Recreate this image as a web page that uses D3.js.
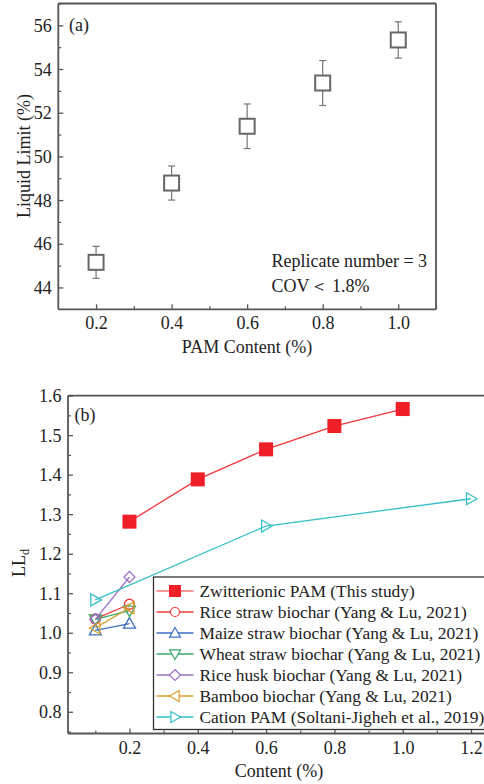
<!DOCTYPE html>
<html>
<head>
<meta charset="utf-8">
<script src="https://cdn.jsdelivr.net/npm/d3@7/dist/d3.min.js"></script>
<style>
  html, body { margin: 0; padding: 0; background: #fff; }
  svg { display: block; }
  text { font-family: "Liberation Serif", "Times New Roman", serif; fill: #222; }
</style>
</head>
<body>
<svg id="chart" width="484" height="784"></svg>
<script>
// ---- Panel (a): liquid limit vs PAM content ----
const pamContent = [0.2, 0.4, 0.6, 0.8, 1.0];
const liquidLimit = [45.15, 48.78, 51.38, 53.36, 55.33];
const liquidLimitErr = [0.73, 0.78, 1.02, 1.03, 0.83];
const aTicksX = [0.2, 0.4, 0.6, 0.8, 1.0];
const aTicksY = [44, 46, 48, 50, 52, 54, 56];

// ---- Panel (b): LL_d vs content for several additives ----
const seriesNames = [
  "Zwitterionic PAM (This study)",
  "Rice straw biochar (Yang & Lu, 2021)",
  "Maize straw biochar (Yang & Lu, 2021)",
  "Wheat straw biochar (Yang & Lu, 2021)",
  "Rice husk biochar (Yang & Lu, 2021)",
  "Bamboo biochar (Yang & Lu, 2021)",
  "Cation PAM (Soltani-Jigheh et al., 2019)"
];
const zwitterionicX = [0.2, 0.4, 0.6, 0.8, 1.0];
const zwitterionicY = [1.281, 1.388, 1.464, 1.523, 1.566];
const riceStrawX = [0.1, 0.2];
const riceStrawY = [1.035, 1.072];
const maizeStrawX = [0.1, 0.2];
const maizeStrawY = [1.006, 1.023];
const wheatStrawX = [0.1, 0.2];
const wheatStrawY = [1.034, 1.056];
const riceHuskX = [0.1, 0.2];
const riceHuskY = [1.034, 1.141];
const bambooX = [0.1, 0.2];
const bambooY = [1.012, 1.063];
const cationX = [0.1, 0.6, 1.2];
const cationY = [1.083, 1.270, 1.339];
const bTicksX = [0.2, 0.4, 0.6, 0.8, 1.0, 1.2];
const bTicksY = [0.8, 0.9, 1.0, 1.1, 1.2, 1.3, 1.4, 1.5, 1.6];

const svg = d3.select("#chart");
const axisColor = "#555";

function minorTicks(domain, step, offset) {
  const out = [];
  for (let v = offset; v <= domain[1] + 1e-9; v += step) {
    if (v >= domain[0] - 1e-9) out.push(+v.toFixed(4));
  }
  return out;
}

// Draws inward-pointing ticks on the left and bottom axes.
function drawAxes(g, x, y, opts) {
  const [x0, x1] = x.range();
  const [y0, y1] = y.range();
  const fmtX = opts.fmtX, fmtY = opts.fmtY;

  const bottom = g.append("g").attr("transform", `translate(0,${y0})`)
    .call(d3.axisBottom(x).tickValues(opts.ticksX).tickSize(-5).tickSizeOuter(0).tickFormat(fmtX));
  bottom.select(".domain").remove();
  bottom.selectAll(".tick line").attr("stroke", axisColor).attr("stroke-width", 1.3);
  bottom.selectAll(".tick text").attr("font-size", 18).attr("font-family", "Liberation Serif")
    .attr("fill", "#222").attr("dy", null).attr("y", opts.xLabelOffset);

  const bottomMinor = g.append("g").attr("transform", `translate(0,${y0})`)
    .call(d3.axisBottom(x).tickValues(opts.minorX).tickSize(-3).tickSizeOuter(0).tickFormat(""));
  bottomMinor.select(".domain").remove();
  bottomMinor.selectAll(".tick line").attr("stroke", axisColor).attr("stroke-width", 1.2);

  const left = g.append("g").attr("transform", `translate(${x0},0)`)
    .call(d3.axisLeft(y).tickValues(opts.ticksY).tickSize(-5).tickSizeOuter(0).tickFormat(fmtY));
  left.select(".domain").remove();
  left.selectAll(".tick line").attr("stroke", axisColor).attr("stroke-width", 1.3);
  left.selectAll(".tick text").attr("font-size", 18).attr("font-family", "Liberation Serif")
    .attr("fill", "#222").attr("x", -6.5).attr("dy", "0.34em");

  const leftMinor = g.append("g").attr("transform", `translate(${x0},0)`)
    .call(d3.axisLeft(y).tickValues(opts.minorY).tickSize(-3).tickSizeOuter(0).tickFormat(""));
  leftMinor.select(".domain").remove();
  leftMinor.selectAll(".tick line").attr("stroke", axisColor).attr("stroke-width", 1.2);

  // frame
  const frame = g.append("g").attr("fill", "none").attr("stroke", axisColor).attr("stroke-width", 1.8);
  frame.append("line").attr("x1", x0).attr("x2", x1).attr("y1", y0).attr("y2", y0);
  frame.append("line").attr("x1", x0).attr("x2", x0).attr("y1", y0).attr("y2", y1);
  frame.append("line").attr("x1", x0).attr("x2", x1).attr("y1", y1).attr("y2", y1);
  if (opts.rightBorder) frame.append("line").attr("x1", x1).attr("x2", x1).attr("y1", y0).attr("y2", y1);
}

// ================= Panel (a) =================
const ga = svg.append("g");
const xa = d3.scaleLinear().domain([0.1, 1.1]).range([58.3, 436]);
const ya = d3.scaleLinear().domain([43, 57]).range([309.3, 3.5]);

drawAxes(ga, xa, ya, {
  ticksX: aTicksX, ticksY: aTicksY,
  minorX: minorTicks(xa.domain(), 0.2, 0.3),
  minorY: minorTicks(ya.domain(), 2, 45),
  fmtX: d3.format(".1f"), fmtY: d3.format("d"),
  xLabelOffset: 19.5, rightBorder: true
});

const aData = pamContent.map((c, i) => ({ x: c, y: liquidLimit[i], e: liquidLimitErr[i] }));
const errG = ga.append("g").attr("stroke", "#777").attr("stroke-width", 1.2);
aData.forEach(d => {
  const cx = xa(d.x);
  errG.append("line").attr("x1", cx).attr("x2", cx).attr("y1", ya(d.y + d.e)).attr("y2", ya(d.y - d.e));
  errG.append("line").attr("x1", cx - 3.5).attr("x2", cx + 3.5).attr("y1", ya(d.y + d.e)).attr("y2", ya(d.y + d.e));
  errG.append("line").attr("x1", cx - 3.5).attr("x2", cx + 3.5).attr("y1", ya(d.y - d.e)).attr("y2", ya(d.y - d.e));
});
ga.append("g").selectAll("rect").data(aData).join("rect")
  .attr("x", d => xa(d.x) - 7.5).attr("y", d => ya(d.y) - 7.5)
  .attr("width", 15).attr("height", 15)
  .attr("fill", "#fff").attr("stroke", "#666").attr("stroke-width", 2);

ga.append("text").attr("x", 69).attr("y", 30.5).attr("font-size", 18).text("(a)");
ga.append("text").attr("x", 271.5).attr("y", 267).attr("font-size", 18).text("Replicate number = 3");
ga.append("text").attr("x", 271.5).attr("y", 291.5).attr("font-size", 18).text("COV＜ 1.8%");
ga.append("text").attr("x", 247).attr("y", 352.5).attr("font-size", 18)
  .attr("text-anchor", "middle").text("PAM Content (%)");
ga.append("text").attr("transform", "translate(30,156) rotate(-90)").attr("font-size", 18)
  .attr("text-anchor", "middle").text("Liquid Limit (%)");

// ================= Panel (b) =================
const gb = svg.append("g");
const xb = d3.scaleLinear().domain([0.02, 1.26]).range([68, 491.5]);
const yb = d3.scaleLinear().domain([0.745, 1.6]).range([733.5, 395.6]);

drawAxes(gb, xb, yb, {
  ticksX: bTicksX, ticksY: bTicksY,
  minorX: minorTicks(xb.domain(), 0.2, 0.1),
  minorY: minorTicks(yb.domain(), 0.1, 0.75),
  fmtX: d3.format(".1f"), fmtY: d3.format(".1f"),
  xLabelOffset: 20, rightBorder: false
});

const sym = {
  square: d3.symbol().type(d3.symbolSquare),
  circle: d3.symbol().type(d3.symbolCircle),
  triangle: d3.symbol().type(d3.symbolTriangle)
};
// marker path builders: size in px (approx width)
function markerPath(kind, s) {
  const h = s / 2;
  switch (kind) {
    case "square": return `M${-h},${-h}H${h}V${h}H${-h}Z`;
    case "circle": return `M${h},0A${h},${h} 0 1,1 ${-h},0A${h},${h} 0 1,1 ${h},0Z`;
    case "up": return `M0,${-h}L${h},${h * 0.75}L${-h},${h * 0.75}Z`;
    case "down": return `M0,${h}L${h},${-h * 0.75}L${-h},${-h * 0.75}Z`;
    case "left": return `M${-h},0L${h * 0.75},${-h}L${h * 0.75},${h}Z`;
    case "right": return `M${h},0L${-h * 0.75},${-h}L${-h * 0.75},${h}Z`;
    case "diamond": return `M0,${-h}L${h},0L0,${h}L${-h},0Z`;
  }
}

const series = [
  { name: seriesNames[0], xs: zwitterionicX, ys: zwitterionicY, color: "#ee1f26", line: "#f0383c", marker: "square", filled: true, size: 14, legSize: 12 },
  { name: seriesNames[1], xs: riceStrawX, ys: riceStrawY, color: "#ef3b3b", line: "#ef3b3b", marker: "circle", filled: false, size: 10, legSize: 9 },
  { name: seriesNames[2], xs: maizeStrawX, ys: maizeStrawY, color: "#3d6fc2", line: "#3d6fc2", marker: "up", filled: false, size: 12, legSize: 11 },
  { name: seriesNames[3], xs: wheatStrawX, ys: wheatStrawY, color: "#3aa76a", line: "#3aa76a", marker: "down", filled: false, size: 12, legSize: 11 },
  { name: seriesNames[4], xs: riceHuskX, ys: riceHuskY, color: "#9b72c6", line: "#9b72c6", marker: "diamond", filled: false, size: 11, legSize: 11 },
  { name: seriesNames[5], xs: bambooX, ys: bambooY, color: "#d6a02e", line: "#d6a02e", marker: "left", filled: false, size: 12, legSize: 11 },
  { name: seriesNames[6], xs: cationX, ys: cationY, color: "#36bfc6", line: "#36bfc6", marker: "right", filled: false, size: 12, legSize: 11 }
];

const lineGen = d3.line().x(d => xb(d[0])).y(d => yb(d[1]));
series.forEach(s => {
  const pts = s.xs.map((v, i) => [v, s.ys[i]]);
  gb.append("path").attr("d", lineGen(pts)).attr("fill", "none")
    .attr("stroke", s.line).attr("stroke-width", 1.3);
  gb.append("g").selectAll("path").data(pts).join("path")
    .attr("transform", d => `translate(${xb(d[0])},${yb(d[1])})`)
    .attr("d", markerPath(s.marker, s.size))
    .attr("fill", s.filled ? s.color : "#fff")
    .attr("fill-opacity", s.filled ? 1 : 0)
    .attr("stroke", s.filled ? "none" : s.color)
    .attr("stroke-width", 1.3);
});

gb.append("text").attr("x", 74.5).attr("y", 420.5).attr("font-size", 18).text("(b)");

// legend
const leg = gb.append("g");
leg.append("rect").attr("x", 153.5).attr("y", 577).attr("width", 340).attr("height", 152.5)
  .attr("fill", "#fff").attr("stroke", "#333").attr("stroke-width", 1.3);
series.forEach((s, i) => {
  const cy = 591 + i * 21;
  leg.append("line").attr("x1", 156.5).attr("x2", 193.5).attr("y1", cy).attr("y2", cy)
    .attr("stroke", s.line).attr("stroke-width", 1.3).attr("stroke-opacity", s.filled ? 0.7 : 1);
  leg.append("path").attr("transform", `translate(175,${cy})`)
    .attr("d", markerPath(s.marker, s.legSize))
    .attr("fill", s.filled ? s.color : "#fff")
    .attr("stroke", s.filled ? "none" : s.color).attr("stroke-width", 1.2);
  leg.append("text").attr("x", 199.5).attr("y", cy + 5.5).attr("font-size", 17.4).text(s.name);
});

gb.append("text").attr("x", 279).attr("y", 777).attr("font-size", 18)
  .attr("text-anchor", "middle").text("Content (%)");
const ll = gb.append("text").attr("transform", "translate(25,563) rotate(-90)")
  .attr("font-size", 18).attr("text-anchor", "middle");
ll.append("tspan").text("LL");
ll.append("tspan").attr("font-size", 12).attr("dy", 4).text("d");
</script>
</body>
</html>
